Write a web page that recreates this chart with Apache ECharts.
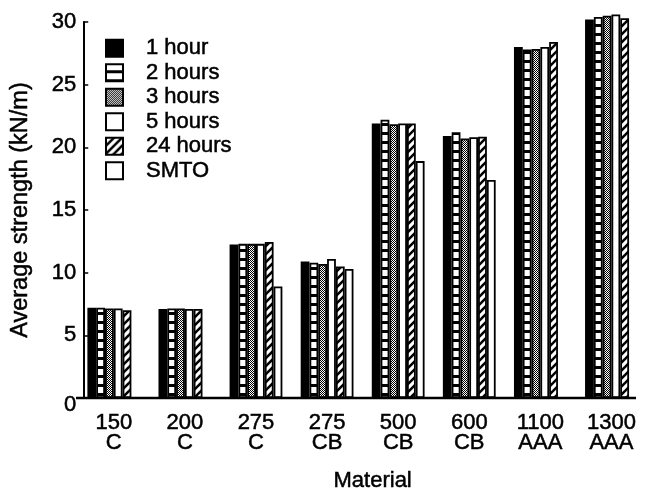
<!DOCTYPE html>
<html>
<head>
<meta charset="utf-8">
<script src="https://cdn.jsdelivr.net/npm/echarts@6/dist/echarts.min.js"></script>
<style>
  html, body { margin: 0; padding: 0; background: #fff; }
  #chart { width: 650px; height: 499px; }
</style>
</head>
<body>
<div id="chart"></div>
<script>
// material groups on the x axis
var categories = ['150\nC', '200\nC', '275\nC', '275\nCB', '500\nCB', '600\nCB', '1100\nAAA', '1300\nAAA'];
// average strength (kN/m) per ageing time
var hour1  = [7.2, 7.1, 12.25, 10.9, 21.9, 20.9, 28.0, 30.2];
var hour2  = [7.2, 7.15, 12.3, 10.8, 22.2, 21.2, 27.8, 30.4];
var hour3  = [7.15, 7.15, 12.3, 10.7, 21.85, 20.7, 27.85, 30.5];
var hour5  = [7.15, 7.1, 12.3, 11.1, 21.9, 20.8, 28.0, 30.6];
var hour24 = [7.0, 7.1, 12.45, 10.5, 21.9, 20.85, 28.4, 30.3];
var smto   = [null, null, 8.9, 10.3, 18.9, 17.4, null, null];
var yTicks = [0, 5, 10, 15, 20, 25, 30];

var font = '"Liberation Sans", Arial, Helvetica, sans-serif';
// thin outline on text to get the heavy look of the printed figure
var ink = { color: '#000', fontFamily: font, textBorderColor: '#000', textBorderWidth: 0.5 };

function makePattern (w, h, draw) {
  var c = document.createElement('canvas');
  c.width = w;
  c.height = h;
  var ctx = c.getContext('2d');
  ctx.fillStyle = '#fff';
  ctx.fillRect(0, 0, w, h);
  ctx.fillStyle = '#000';
  ctx.strokeStyle = '#000';
  draw(ctx);
  return { image: c, repeat: 'repeat' };
}
var stripes = makePattern(2, 9, function (ctx) { ctx.fillRect(0, 6, 2, 3); });
var dots = makePattern(2, 2, function (ctx) { ctx.fillRect(0, 0, 1, 1); ctx.fillRect(1, 1, 1, 1); });
var hatch = makePattern(8, 8, function (ctx) {
  ctx.lineWidth = 2.5;
  ctx.beginPath(); ctx.moveTo(-2, 10); ctx.lineTo(10, -2); ctx.stroke();
  ctx.beginPath(); ctx.moveTo(-2, 2); ctx.lineTo(2, -2); ctx.stroke();
  ctx.beginPath(); ctx.moveTo(6, 10); ctx.lineTo(10, 6); ctx.stroke();
});

function bar (name, data, fill) {
  return {
    name: name,
    type: 'bar',
    data: data,
    barWidth: 8.8,
    barGap: '0%',
    clip: false,
    itemStyle: { color: fill, borderColor: '#000', borderWidth: 1.8 }
  };
}

function withInk (extra) {
  return Object.assign({}, ink, extra);
}

var chart = echarts.init(document.getElementById('chart'));
var option = {
  animation: false,
  backgroundColor: '#fff',
  textStyle: { fontFamily: font, color: '#000' },
  grid: { left: 72, right: 3, top: 22, bottom: 101, containLabel: false },
  legend: {
    orient: 'vertical',
    left: 100,
    top: 32,
    icon: 'rect',
    itemWidth: 17,
    itemHeight: 17,
    itemGap: 2,
    textStyle: withInk({ fontSize: 22, lineHeight: 20, padding: [0, 0, 0, 18] })
  },
  xAxis: {
    type: 'category',
    data: categories,
    axisLine: { show: false },
    axisTick: { show: false },
    axisLabel: withInk({ fontSize: 22, lineHeight: 20, margin: 15, interval: 0 }),
    name: 'Material',
    nameLocation: 'middle',
    nameGap: 72,
    nameTextStyle: withInk({ fontSize: 22, padding: [0, 0, 0, 20] })
  },
  yAxis: {
    type: 'value',
    min: yTicks[0],
    max: yTicks[yTicks.length - 1],
    interval: 5,
    offset: -5,
    splitLine: { show: false },
    axisLine: { show: true, lineStyle: { color: '#000', width: 2 } },
    axisTick: { show: true, inside: true, length: 5, lineStyle: { color: '#000', width: 1.5 } },
    axisLabel: withInk({
      fontSize: 22,
      margin: 7,
      formatter: function (v) { return v === 0 ? '{zero|0}' : String(v); },
      rich: { zero: withInk({ fontSize: 22, padding: [14, 0, 0, 0] }) }
    }),
    name: 'Average strength (kN/m)',
    nameLocation: 'middle',
    nameGap: 51,
    nameTextStyle: withInk({ fontSize: 23.5 })
  },
  series: [
    bar('1 hour', hour1, '#000'),
    bar('2 hours', hour2, stripes),
    bar('3 hours', hour3, dots),
    bar('5 hours', hour5, '#fff'),
    bar('24 hours', hour24, hatch),
    bar('SMTO', smto, '#fff')
  ]
};
chart.setOption(option);

// bottom axis line only spans from the y axis to the last group
var y0 = chart.convertToPixel({ yAxisIndex: 0 }, 0);
chart.setOption({
  graphic: [{
    type: 'line',
    z: 10,
    shape: { x1: 76, y1: y0, x2: 636, y2: y0 },
    style: { stroke: '#000', lineWidth: 2.5 }
  }]
});
</script>
</body>
</html>
